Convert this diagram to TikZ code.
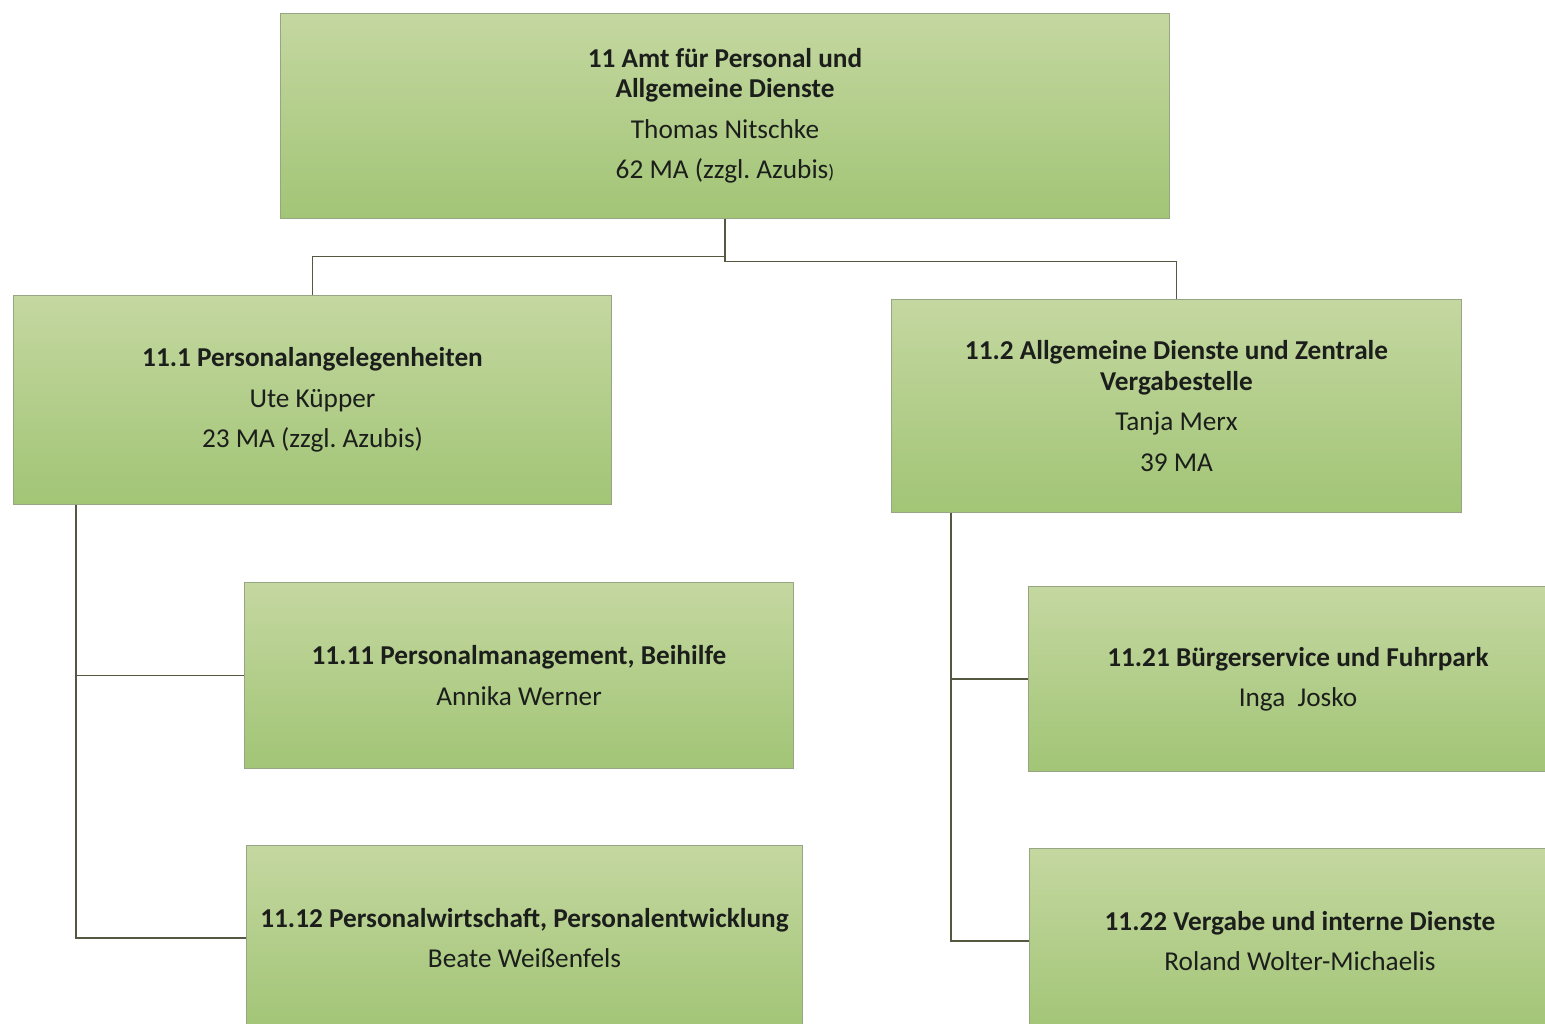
\documentclass[tikz,border=0pt]{standalone}
\usepackage{fontspec}
\setmainfont{Carlito}
\frenchspacing
\definecolor{boxtop}{RGB}{196,215,160}
\definecolor{boxbot}{RGB}{162,197,118}
\definecolor{boxedge}{RGB}{150,165,130}
\definecolor{conncol}{RGB}{85,88,65}
\definecolor{txt}{RGB}{28,30,28}
\begin{document}
\begin{tikzpicture}[x=0.01cm,y=-0.01cm,
  box/.style={draw=boxedge, line width=0.3pt, top color=boxtop, bottom color=boxbot,
    align=center, inner sep=0pt, text=txt,
    font=\fontsize{7.75}{8.6}\selectfont},
  conn/.style={draw=conncol, line width=0.45pt}]
\useasboundingbox (0,0) rectangle (1545,1023);
\clip (0,0) rectangle (1545,1023);
\fill[white] (0,0) rectangle (1545,1023);

\node[box, minimum width=8.88cm, minimum height=2.04cm] (top) at (725,116)
  {\textbf{11 Amt für Personal und}\\\textbf{Allgemeine Dienste}\\[2.9pt]
   Thomas Nitschke\\[2.9pt] 62 MA (zzgl. Azubis{\fontsize{5.5}{6}\selectfont)}};

\node[box, minimum width=5.97cm, minimum height=2.08cm] (p1) at (312.5,400)
  {\textbf{11.1 Personalangelegenheiten}\\[2.9pt] Ute Küpper\\[2.9pt] 23 MA (zzgl. Azubis)};

\node[box, minimum width=5.69cm, minimum height=2.12cm] (p2) at (1176.5,406)
  {\textbf{11.2 Allgemeine Dienste und Zentrale}\\\textbf{Vergabestelle}\\[2.9pt]
   Tanja Merx\\[2.9pt] 39 MA};

\node[box, minimum width=5.48cm, minimum height=1.85cm] (p11) at (519,675.5)
  {\textbf{11.11 Personalmanagement, Beihilfe}\\[2.9pt] Annika Werner};

\node[box, minimum width=5.55cm, minimum height=1.84cm] (p12) at (524.5,938)
  {\textbf{11.12 Personalwirtschaft, Personalentwicklung}\\[2.9pt] Beate Weißenfels};

\node[box, minimum width=5.38cm, minimum height=1.84cm] (p21) at (1298,679)
  {\textbf{11.21 Bürgerservice und Fuhrpark}\\[2.9pt] Inga\ \ Josko};

\node[box, minimum width=5.40cm, minimum height=1.84cm] (p22) at (1300,941)
  {\textbf{11.22 Vergabe und interne Dienste}\\[2.9pt] Roland Wolter-Michaelis};

% connectors
\draw[conn] (top.south) -- ++(0,38) -| (p1.north);
\draw[conn] (top.south) -- ++(0,43) -| (p2.north);

\coordinate (l) at (p1.south -| 76,0);
\draw[conn] (l) |- (p12.west);
\draw[conn] (l |- p11.west) -- (p11.west);

\coordinate (r) at (p2.south -| 951,0);
\draw[conn] (r) |- (p22.west);
\draw[conn] (r |- p21.west) -- (p21.west);
\end{tikzpicture}
\end{document}
